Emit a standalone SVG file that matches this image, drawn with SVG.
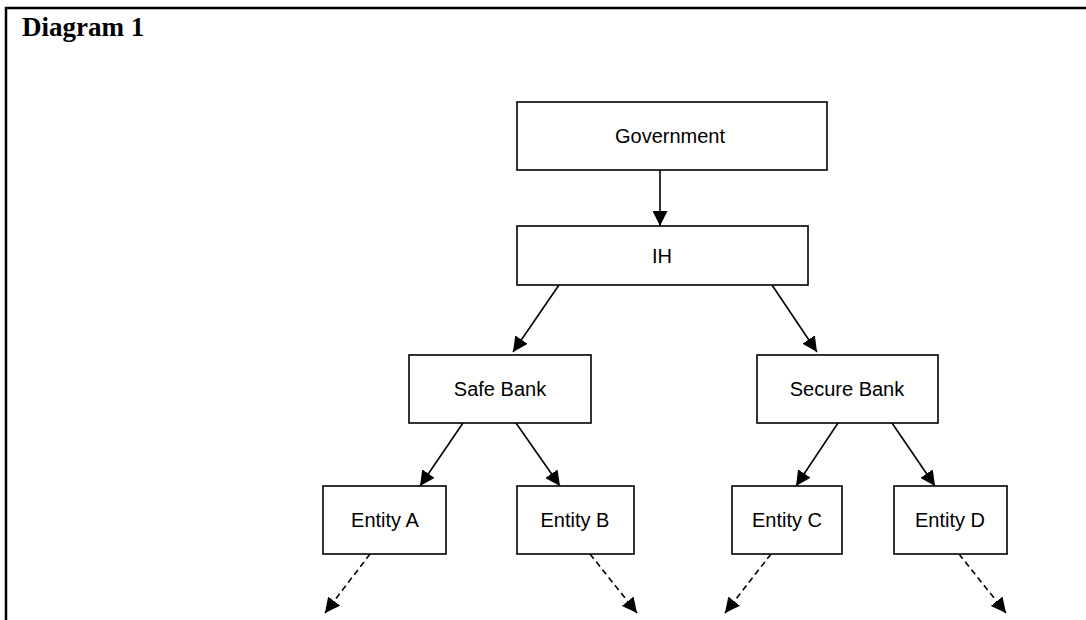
<svg xmlns="http://www.w3.org/2000/svg" width="1086" height="620" viewBox="0 0 1086 620">
<style>
.box{fill:#fff;stroke:#000;stroke-width:1.6}
.lbl{font-family:"Liberation Sans",Arial,sans-serif;font-size:20px;fill:#000;text-anchor:middle}
.c{stroke:#000;stroke-width:1.6;fill:none;marker-end:url(#ah)}
.d{stroke-dasharray:6 4}
</style>
<defs>
<marker id="ah" markerUnits="userSpaceOnUse" markerWidth="15" markerHeight="15" refX="14" refY="7" orient="auto" viewBox="0 0 14 14">
<path d="M0,0 L14,7 L0,14 z" fill="#000"/>
</marker>
</defs>
<rect width="1086" height="620" fill="#fff"/>
<path d="M6,620 V8 H1086" fill="none" stroke="#000" stroke-width="2.5"/>
<text x="22" y="36" font-family="'Liberation Serif','Times New Roman',serif" font-size="27" font-weight="bold">Diagram 1</text>
<g id="connectors">
<line class="c" x1="660" y1="170" x2="660" y2="226"/>
<line class="c" x1="559" y1="285" x2="513" y2="352"/>
<line class="c" x1="772" y1="285" x2="817" y2="352"/>
<line class="c" x1="463" y1="423" x2="420" y2="486"/>
<line class="c" x1="516" y1="423" x2="560" y2="486"/>
<line class="c" x1="838" y1="423" x2="796" y2="486"/>
<line class="c" x1="892" y1="423" x2="935" y2="486"/>
<line class="c d" x1="370" y1="554" x2="325" y2="613"/>
<line class="c d" x1="590" y1="554" x2="637" y2="613"/>
<line class="c d" x1="771" y1="554" x2="725" y2="613"/>
<line class="c d" x1="959" y1="554" x2="1006" y2="613"/>
</g>
<g id="government"><rect class="box" x="517" y="102" width="310" height="68"/><text class="lbl" x="670" y="143">Government</text></g>
<g id="ih"><rect class="box" x="517" y="226" width="291" height="59"/><text class="lbl" x="662" y="263">IH</text></g>
<g id="safe-bank"><rect class="box" x="409" y="355" width="182" height="68"/><text class="lbl" x="500" y="396">Safe Bank</text></g>
<g id="secure-bank"><rect class="box" x="757" y="355" width="181" height="68"/><text class="lbl" x="847" y="396">Secure Bank</text></g>
<g id="entity-a"><rect class="box" x="323" y="486" width="123" height="68"/><text class="lbl" x="385" y="527">Entity A</text></g>
<g id="entity-b"><rect class="box" x="517" y="486" width="117" height="68"/><text class="lbl" x="575" y="527">Entity B</text></g>
<g id="entity-c"><rect class="box" x="732" y="486" width="110" height="68"/><text class="lbl" x="787" y="527">Entity C</text></g>
<g id="entity-d"><rect class="box" x="894" y="486" width="113" height="68"/><text class="lbl" x="950" y="527">Entity D</text></g>
</svg>
